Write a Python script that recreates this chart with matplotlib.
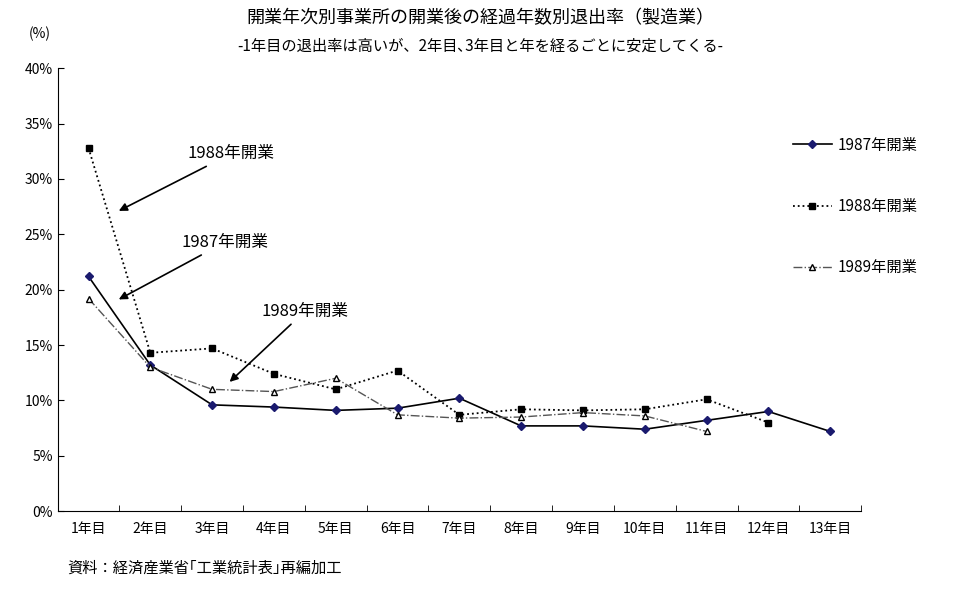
import matplotlib.pyplot as plt
import numpy as np

plt.rcParams["font.family"] = "Noto Sans CJK JP"

categories = ["1年目", "2年目", "3年目", "4年目", "5年目", "6年目", "7年目",
              "8年目", "9年目", "10年目", "11年目", "12年目", "13年目"]
y1987 = [21.2, 13.2, 9.6, 9.4, 9.1, 9.3, 10.2, 7.7, 7.7, 7.4, 8.2, 9.0, 7.2]
y1988 = [32.8, 14.3, 14.7, 12.4, 11.0, 12.7, 8.7, 9.2, 9.1, 9.2, 10.1, 8.0]
y1989 = [19.2, 13.0, 11.0, 10.8, 12.0, 8.7, 8.4, 8.5, 8.9, 8.6, 7.2]

fig = plt.figure(figsize=(9.6, 5.93), dpi=100)
ax = fig.add_axes([0.06, 0.138, 0.837, 0.747])

x = np.arange(len(categories))
ax.plot(x, y1987, "-", color="black", lw=1.2, marker="D", ms=4,
        mfc="#1a1a6e", mec="#1a1a6e", label="1987年開業")
ax.plot(x[:len(y1988)], y1988, ":", color="black", lw=1.3, marker="s", ms=4,
        mfc="black", label="1988年開業")
ax.plot(x[:len(y1989)], y1989, "-.", color="#555555", lw=1.0, marker="^", ms=5,
        mfc="white", mec="black", label="1989年開業")

ax.set_xlim(-0.5, len(categories) - 0.5)
ax.set_ylim(0, 40)
ax.set_yticks(range(0, 41, 5))
ax.set_yticklabels([f"{v}%" for v in range(0, 41, 5)], fontsize=10)
ax.set_xticks(x)
ax.set_xticklabels(categories, fontsize=10)
ax.set_xticks(np.arange(-0.5, len(categories), 1), minor=True)
ax.tick_params(axis="x", which="major", length=0, pad=8)
ax.tick_params(axis="x", which="minor", length=4, direction="in")
ax.tick_params(axis="y", length=4, direction="in")
for s in ["top", "right"]:
    ax.spines[s].set_visible(False)

fig.text(0.03, 0.935, "(%)", fontsize=10)
fig.suptitle("開業年次別事業所の開業後の経過年数別退出率（製造業）", y=0.985, fontsize=13)
fig.text(0.5, 0.915, "-1年目の退出率は高いが、2年目､3年目と年を経るごとに安定してくる-",
         ha="center", fontsize=11)
fig.text(0.07, 0.035, "資料：経済産業省｢工業統計表｣再編加工", fontsize=11)

arrow = dict(arrowstyle="-|>", color="black", lw=1.2)
ax.annotate("1988年開業", xy=(0.45, 27), xytext=(1.6, 31.5), fontsize=12,
            arrowprops=arrow, ha="left", va="bottom")
ax.annotate("1987年開業", xy=(0.45, 19), xytext=(1.5, 23.5), fontsize=12,
            arrowprops=arrow, ha="left", va="bottom")
ax.annotate("1989年開業", xy=(2.25, 11.5), xytext=(2.8, 17.3), fontsize=12,
            arrowprops=arrow, ha="left", va="bottom")

fig.legend(*ax.get_legend_handles_labels(), loc="upper left",
           bbox_to_anchor=(0.82, 0.78), frameon=False, fontsize=11,
           labelspacing=2.9, handlelength=2.5, handletextpad=0.4,
           borderaxespad=0)

fig.savefig("out.png")
